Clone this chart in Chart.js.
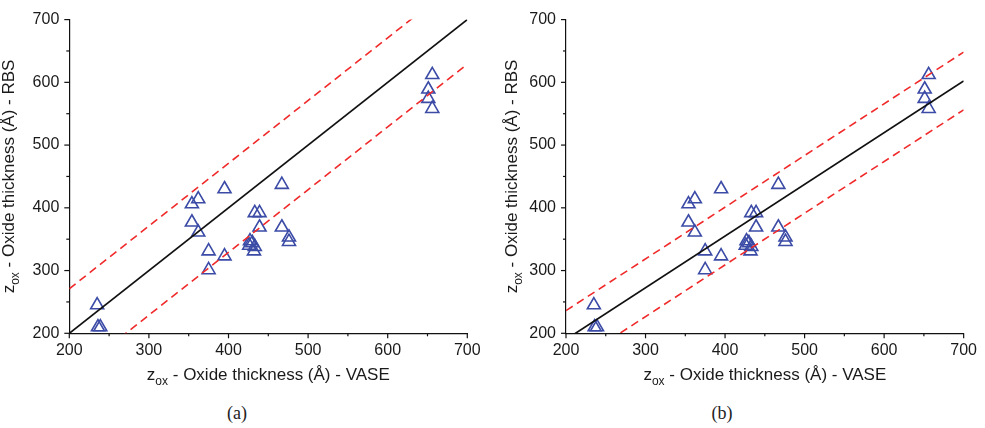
<!DOCTYPE html>
<html>
<head>
<meta charset="utf-8">
<script src="https://cdn.jsdelivr.net/npm/chart.js@4"></script>
<style>
  body { margin: 0; background: #fff; width: 985px; height: 428px; position: relative; overflow: hidden; }
  canvas { position: absolute; top: 0; }
  #chartA { left: 0; }
  #chartB { left: 495px; }
  .caption { position: absolute; top: 403px; font-family: "Liberation Serif", "Times New Roman", serif; font-size: 18px; color: #222; transform: translateX(-50%); }
</style>
</head>
<body>
<canvas id="chartA" width="490" height="400"></canvas>
<canvas id="chartB" width="490" height="400"></canvas>
<div class="caption" style="left:237px">(a)</div>
<div class="caption" style="left:722px">(b)</div>
<script>
// measured thickness, VASE (x) vs RBS (y), in angstrom
const vase = [235, 236, 239, 354, 362, 354, 362, 375, 375, 395, 395, 433, 439, 439, 427, 430, 426, 433, 432, 467, 467, 476, 476, 656, 651, 651, 656];
const rbs  = [245, 210, 210, 406, 414, 377, 361, 331, 301, 430, 323, 392, 392, 369, 347, 344, 340, 338, 331, 437, 369, 353, 346, 612, 589, 574, 558];

// reference lines: (a) y = x, (b) linear fit; dashed bands at +/- offset
const fitSlope = [1, 0.824];
const fitIntercept = [0, 25.4];
const bandOffset = [71, 46];
const axisRange = [200, 700];
const tickValues = [200, 300, 400, 500, 600, 700];

const FONT = "'Liberation Sans', Arial, sans-serif";
const BLUE = '#3b4ba6';
const RED = '#f02a2a';

function lineData(slope, intercept, shift) {
    return axisRange.map(x => ({ x: x, y: slope * x + intercept + shift }));
}

// draws outward major/minor ticks and the subscripted axis titles
const axisDecor = {
    id: 'axisDecor',
    afterDraw(chart, args, opts) {
        const ctx = chart.ctx;
        const xs = chart.scales.x, ys = chart.scales.y;
        const area = chart.chartArea;
        ctx.save();
        ctx.strokeStyle = '#111';
        ctx.lineWidth = 1.2;
        for (let v = 200; v <= 700; v += 50) {
            const len = v % 100 === 0 ? 5 : 3;
            const px = xs.getPixelForValue(v);
            ctx.beginPath();
            ctx.moveTo(px, area.bottom);
            ctx.lineTo(px, area.bottom + len);
            ctx.stroke();
            const py = ys.getPixelForValue(v);
            ctx.beginPath();
            ctx.moveTo(area.left, py);
            ctx.lineTo(area.left - len, py);
            ctx.stroke();
        }

        ctx.fillStyle = '#1a1a1a';
        ctx.textBaseline = 'alphabetic';
        const drawTitle = (rest) => {
            ctx.font = '17px ' + FONT;
            const wz = ctx.measureText('z').width;
            const rw = ctx.measureText(rest).width;
            ctx.font = '12px ' + FONT;
            const wsub = ctx.measureText('ox').width;
            const total = wz + wsub + rw;
            let x = -total / 2;
            ctx.font = '17px ' + FONT;
            ctx.fillText('z', x, 0);
            x += wz;
            ctx.font = '12px ' + FONT;
            ctx.fillText('ox', x, 5);
            x += wsub;
            ctx.font = '17px ' + FONT;
            ctx.fillText(rest, x, 0);
        };

        ctx.save();
        ctx.translate((area.left + area.right) / 2, 380);
        drawTitle(' - Oxide thickness (Å) - VASE');
        ctx.restore();

        ctx.save();
        ctx.translate(opts.yTitleX, (area.top + area.bottom) / 2);
        ctx.rotate(-Math.PI / 2);
        drawTitle(' - Oxide thickness (Å) - RBS');
        ctx.restore();
        ctx.restore();
    }
};

function makeChart(canvasId, idx, yAxisWidth, rightPad, yTitleX) {
    const ctx = document.getElementById(canvasId).getContext('2d');
    const s = fitSlope[idx], b = fitIntercept[idx], d = bandOffset[idx];
    const points = vase.map((x, i) => ({ x: x, y: rbs[i] }));

    return new Chart(ctx, {
        type: 'scatter',
        data: {
            datasets: [
                {
                    data: lineData(s, b, d),
                    showLine: true,
                    borderColor: RED,
                    borderWidth: 1.6,
                    borderDash: [8, 5],
                    pointRadius: 0
                },
                {
                    data: lineData(s, b, -d),
                    showLine: true,
                    borderColor: RED,
                    borderWidth: 1.6,
                    borderDash: [8, 5],
                    pointRadius: 0
                },
                {
                    data: lineData(s, b, 0),
                    showLine: true,
                    borderColor: '#111',
                    borderWidth: 1.7,
                    pointRadius: 0
                },
                {
                    data: points,
                    pointStyle: 'triangle',
                    pointRadius: 7.5,
                    pointBorderWidth: 1.6,
                    borderColor: BLUE,
                    backgroundColor: 'rgba(0,0,0,0)'
                }
            ]
        },
        options: {
            responsive: false,
            animation: false,
            devicePixelRatio: 1,
            events: [],
            layout: { padding: { top: 11.7, right: rightPad, left: 0, bottom: 0 } },
            plugins: {
                legend: { display: false },
                tooltip: { enabled: false },
                axisDecor: { yTitleX: yTitleX }
            },
            scales: {
                x: {
                    type: 'linear',
                    min: axisRange[0],
                    max: axisRange[1],
                    afterFit: (scale) => { scale.height = 66.7; },
                    afterBuildTicks: (scale) => { scale.ticks = tickValues.map(v => ({ value: v })); },
                    grid: { drawOnChartArea: false, drawTicks: false },
                    border: { display: true, color: '#111', width: 1.2 },
                    ticks: { padding: 8, color: '#1a1a1a', font: { family: FONT, size: 16 }, maxRotation: 0 }
                },
                y: {
                    type: 'linear',
                    min: axisRange[0],
                    max: axisRange[1],
                    afterFit: (scale) => { scale.width = yAxisWidth; },
                    afterBuildTicks: (scale) => { scale.ticks = tickValues.map(v => ({ value: v })); },
                    grid: { drawOnChartArea: false, drawTicks: false },
                    border: { display: true, color: '#111', width: 1.2 },
                    ticks: { padding: 10, color: '#1a1a1a', font: { family: FONT, size: 16 } }
                }
            }
        },
        plugins: [axisDecor]
    });
}

makeChart('chartA', 0, 69.3, 22.7, 14);
makeChart('chartB', 1, 71, 20.7, 22);
</script>
</body>
</html>
